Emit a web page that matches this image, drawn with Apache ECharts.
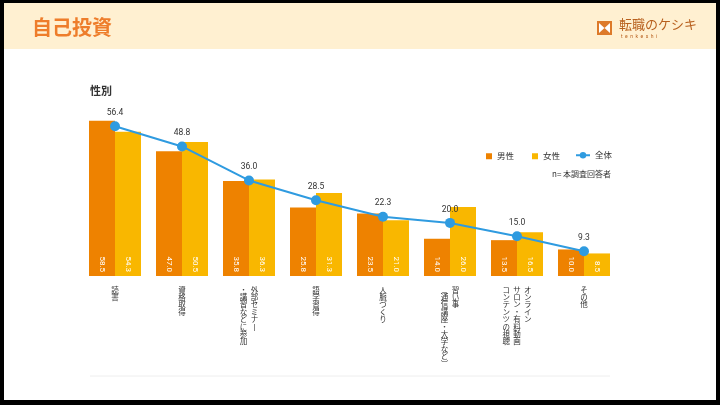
<!DOCTYPE html>
<html><head><meta charset="utf-8">
<script src="https://cdn.jsdelivr.net/npm/echarts@6/dist/echarts.min.js"></script>
<style>html,body{margin:0;padding:0;background:#000;}#c{width:720px;height:405px;}</style>
</head><body><div id="c"></div>
<script>
const categories = ['読書','資格取得','外部セミナー\n・講習などに参加','語学習得','人脈づくり','習い事\n（通信講座・大学など）','オンライン\nサロン・有料動画\nコンテンツの視聴','その他'];
const male = [58.5,47.0,35.8,25.8,23.5,14.0,13.5,10.0];
const female = [54.3,50.5,36.3,31.3,21.0,26.0,16.5,8.5];
const total = [56.4,48.8,36.0,28.5,22.3,20.0,15.0,9.3];
const seriesNames = ['男性','女性','全体'];

const FONT = '"Noto Sans CJK JP","Noto Sans",sans-serif';
function vertical(s){
  const map={'ー':'丨','（':'︵','）':'︶','(':'︵',')':'︶'};
  const cols = s.split('\n').map(c=>Array.from(c).map(ch=>map[ch]||ch));
  const n = Math.max(...cols.map(c=>c.length));
  const rows=[];
  for(let i=0;i<n;i++){ rows.push(cols.slice().reverse().map(c=>c[i]||'　').join('  ')); }
  return rows.join('\n');
}
const chart = echarts.init(document.getElementById('c'), null, {renderer:'canvas'});
const fmt = p => Number(p.value).toFixed(1);
chart.setOption({
  backgroundColor:'#000',
  animation:false,
  textStyle:{fontFamily:FONT},
  grid:{left:81.5,right:102.5,top:116.7,bottom:129,outerBoundsMode:'none',containLabel:false},
  xAxis:{type:'category',data:categories,axisLine:{show:false},axisTick:{show:false},
    axisLabel:{interval:0,margin:10,fontSize:7.5,lineHeight:7.4,color:'#333',fontFamily:FONT,formatter:vertical,align:'center',verticalAlign:'top'}},
  yAxis:{type:'value',min:0,max:60,show:false,splitLine:{show:false}},
  legend:[
    {data:[{name:seriesNames[0],icon:'rect'}],left:486,top:152,padding:0,itemWidth:6,itemHeight:6,itemGap:4,textStyle:{fontSize:8.5,color:'#333',fontFamily:FONT}},
    {data:[{name:seriesNames[1],icon:'rect'}],left:532,top:152,padding:0,itemWidth:6,itemHeight:6,itemGap:4,textStyle:{fontSize:8.5,color:'#333',fontFamily:FONT}},
    {data:[seriesNames[2]],left:575,top:151,padding:0,itemWidth:14,itemHeight:8,textStyle:{fontSize:8.5,color:'#333',fontFamily:FONT}}
  ],
  series:[
    {name:seriesNames[0],type:'bar',data:male,barWidth:26,barGap:'0%',itemStyle:{color:'#EE8200'},
      label:{show:true,position:'insideBottom',rotate:-90,align:'right',verticalAlign:'middle',distance:4,color:'#fff',fontSize:8,fontFamily:'Roboto,sans-serif',formatter:fmt}},
    {name:seriesNames[1],type:'bar',data:female,barWidth:26,barGap:'0%',itemStyle:{color:'#F9B700'},
      label:{show:true,position:'insideBottom',rotate:-90,align:'right',verticalAlign:'middle',distance:4,color:'#fff',fontSize:8,fontFamily:'Roboto,sans-serif',formatter:fmt}},
    {name:seriesNames[2],type:'line',data:total,z:5,symbol:'circle',symbolSize:10,
      itemStyle:{color:'#2F9BE0'},lineStyle:{width:2,color:'#2F9BE0'},
      label:{show:true,position:'top',distance:4,color:'#333',fontSize:8.5,fontFamily:'Roboto,sans-serif',formatter:fmt}}
  ],
  graphic:[
    {type:'rect',z:-10,shape:{x:4,y:3,width:712,height:397},style:{fill:'#fff'},silent:true},
    {type:'rect',z:-9,shape:{x:4,y:3,width:712,height:46},style:{fill:'#FFF0D1'},silent:true},
    {type:'text',x:32,y:17,style:{text:'自己投資',fill:'#EE7D2B',font:'bold 20px '+FONT}},
    {type:'rect',shape:{x:597,y:21,width:15,height:14},style:{fill:'#DD7A2A'}},
    {type:'polygon',shape:{points:[[599,23],[599,33],[604.5,28]]},style:{fill:'#fff'}},
    {type:'polygon',shape:{points:[[610,23],[610,33],[604.5,28]]},style:{fill:'#fff'}},
    {type:'text',x:619,y:18,style:{text:'転職のケシキ',fill:'#B8601E',font:'13px "Noto Sans CJK JP"'}},
    {type:'text',x:621,y:34,style:{text:'t  e  n  k  e  s  h  i',fill:'#B8601E',font:'5px Roboto'}},
    {type:'text',x:90,y:85,style:{text:'性別',fill:'#333',font:'bold 11px '+FONT}},
    {type:'text',x:552,y:170,style:{text:'n= 本調査回答者',fill:'#333',font:'8px '+FONT}},
    {type:'line',shape:{x1:90,y1:376,x2:610,y2:376},style:{stroke:'#eeeeee',lineWidth:1}}
  ]
});
</script></body></html>
